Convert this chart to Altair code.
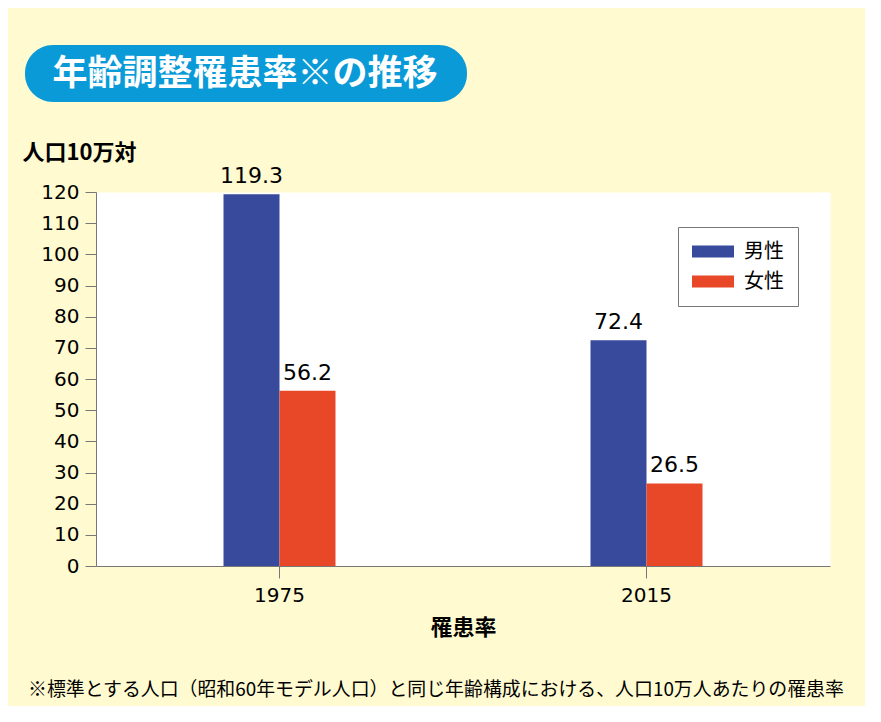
import altair as alt
import pandas as pd

years = ["1975", "2015"]
sexes = ["男性", "女性"]
male_values = [119.3, 72.4]
female_values = [56.2, 26.5]
y_ticks = [0, 10, 20, 30, 40, 50, 60, 70, 80, 90, 100, 110, 120]
bar_colors = ["#384a9b", "#e84828"]

title_text = "年齢調整罹患率※の推移"
y_title = "人口10万対"
x_title = "罹患率"
footnote = "※標準とする人口（昭和60年モデル人口）と同じ年齢構成における、人口10万人あたりの罹患率"

rows = []
for i, yr in enumerate(years):
    rows.append({"year": yr, "sex": sexes[0], "value": male_values[i]})
    rows.append({"year": yr, "sex": sexes[1], "value": female_values[i]})
df = pd.DataFrame(rows)

JP = "Noto Sans CJK JP"
NUM = "DejaVu Sans"

x_enc = alt.X(
    "year:N",
    sort=years,
    title=x_title,
    scale=alt.Scale(paddingInner=0, paddingOuter=0),
    axis=alt.Axis(
        labelAngle=0,
        labelFont=NUM,
        labelFontSize=20,
        labelColor="black",
        labelPadding=7,
        tickSize=12,
        tickColor="#777777",
        domainColor="#777777",
        titleFont=JP,
        titleFontSize=22,
        titleFontWeight="bold",
        titleColor="black",
        titlePadding=12,
    ),
)
xoff = alt.XOffset("sex:N", sort=sexes, scale=alt.Scale(range=[127.5, 239.5], paddingOuter=0, paddingInner=0))
y_enc = alt.Y(
    "value:Q",
    title=y_title,
    scale=alt.Scale(domain=[0, 120], nice=False),
    axis=alt.Axis(
        values=y_ticks,
        grid=False,
        labelFont=NUM,
        labelFontSize=20,
        labelColor="black",
        labelPadding=6,
        tickSize=11,
        tickColor="#777777",
        domainColor="#777777",
        titleAngle=0,
        titleX=-74,
        titleY=-40,
        titleAlign="left",
        titleBaseline="middle",
        titleFont=JP,
        titleFontSize=22,
        titleFontWeight="bold",
        titleColor="black",
    ),
)

color_enc = alt.Color(
    "sex:N",
    sort=sexes,
    scale=alt.Scale(domain=sexes, range=bar_colors),
    legend=alt.Legend(
        title=None,
        orient="none",
        legendX=582,
        legendY=35,
        padding=14,
        fillColor="white",
        strokeColor="#777777",
        labelFont=JP,
        labelFontSize=20,
        labelColor="black",
        labelOffset=31,
        rowPadding=9,
        symbolType="M-1,-0.58L3,-0.58L3,0.58L-1,0.58Z",
        symbolSize=441,
        symbolStrokeWidth=0,
        symbolOpacity=1,
    ),
)

base = alt.Chart(df)
bars = base.mark_bar(opacity=1).encode(x=x_enc, xOffset=xoff, y=y_enc, color=color_enc)
labels = base.mark_text(
    baseline="alphabetic", dy=-11, font=NUM, fontSize=22, color="black"
).encode(x=x_enc, xOffset=xoff, y=y_enc, text=alt.Text("value:Q", format=".1f"))

one = alt.Data(values=[{"a": 1}])
pill = alt.Chart(one).mark_rect(color="#0a9ad8", cornerRadius=28).encode(
    x=alt.value(-71), x2=alt.value(371), y=alt.value(-147), y2=alt.value(-90)
)
title_mark = alt.Chart(one).mark_text(
    text=title_text, font=JP, fontSize=35, fontWeight="bold", color="white",
    align="center", baseline="middle",
).encode(x=alt.value(149), y=alt.value(-118))
foot = alt.Chart(one).mark_text(
    text=footnote, font=JP, fontSize=18.9, color="black", align="left", baseline="middle",
).encode(x=alt.value(-68), y=alt.value(498))

chart = alt.layer(bars, labels, pill, title_mark, foot).properties(
    width=734,
    height=374,
    autosize=alt.AutoSizeParams(type="none"),
    padding={"left": 88, "top": 184, "right": 35, "bottom": 140},
    background="#fffad0",
).configure_view(fill="white", stroke="transparent")

chart.save("out.html", embed_options={"renderer": "svg", "actions": False})
